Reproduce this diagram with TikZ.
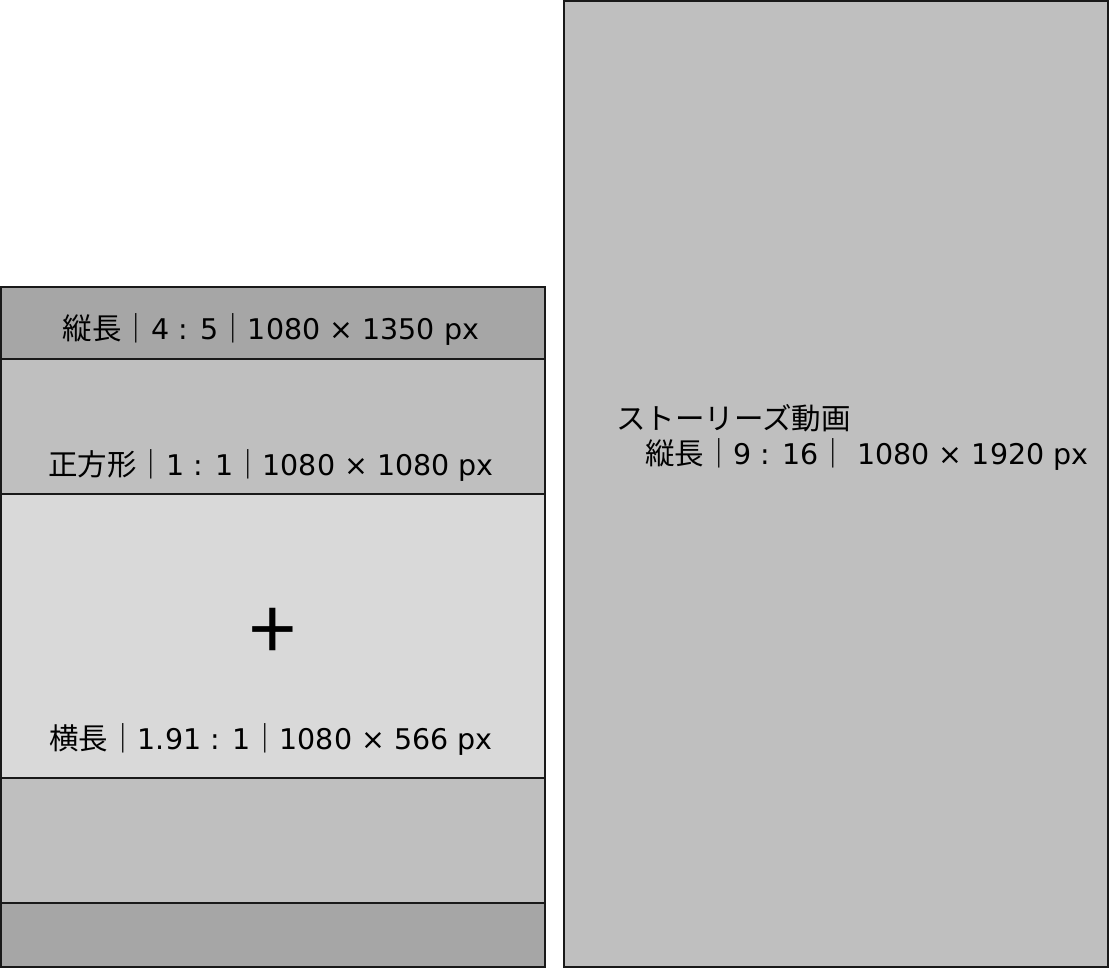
\documentclass[tikz,border=0pt]{standalone}
\usepackage{fontspec}
\setmainfont{DejaVu Sans}
\newfontfamily\jp{Noto Sans CJK JP}
\usepackage{tikz}
\tikzset{
    band/.style={draw=black!90, line width=2pt},
    label/.style={font=\fontsize{28.5}{34}\selectfont, inner sep=0pt},
}
\newcommand{\ja}[1]{{\jp\fontsize{29.5}{34}\selectfont #1}}
\definecolor{bandDark}{HTML}{A6A6A6}
\definecolor{bandMid}{HTML}{BFBFBF}
\definecolor{bandLight}{HTML}{D9D9D9}

\begin{document}
\begin{tikzpicture}[x=1pt, y=-1pt]
    \useasboundingbox (0,0) rectangle (1109,969);
    % left column
    \draw[band, fill=bandDark] (1,287) rectangle (545,359);
    \draw[band, fill=bandMid] (1,359) rectangle (545,494);
    \draw[band, fill=bandLight] (1,494) rectangle (545,778);
    \draw[band, fill=bandMid] (1,778) rectangle (545,903);
    \draw[band, fill=bandDark] (1,903) rectangle (545,967);
    % right column
    \draw[band, fill=bandMid] (564,1) rectangle (1108,967);
    % labels
    \node[label] (portrait) at (271,329) {\ja{縦長｜}4 : 5\ja{｜}1080 × 1350 px};
    \node[label] (square) at (271,465) {\ja{正方形｜}1 : 1\ja{｜}1080 × 1080 px};
    \node[label] (center) at (273,634) {\ja{\fontsize{84}{84}\selectfont +}};
    \node[label] (landscape) at (271,739) {\ja{横長｜}1.91 : 1\ja{｜}1080 × 566 px};
    \node[label, anchor=west] (story) at (616,418) {\ja{ストーリーズ動画}};
    \node[label, anchor=west] (storysize) at (645,454) {\ja{縦長｜}9 : 16\ja{｜} 1080 × 1920 px};
\end{tikzpicture}
\end{document}
